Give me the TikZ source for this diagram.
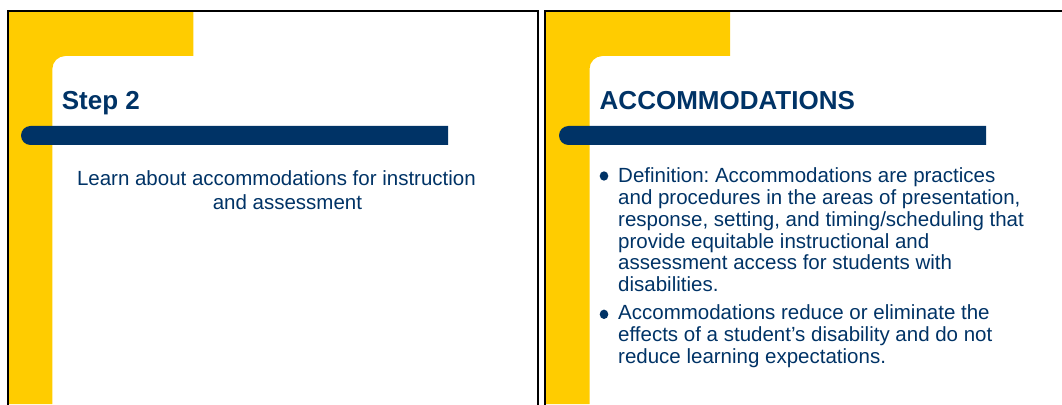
\documentclass[tikz,border=0pt]{standalone}
\usepackage{fontspec}
\setmainfont{Liberation Sans}
\frenchspacing
\definecolor{navy}{HTML}{003366}
\definecolor{gold}{HTML}{FFCC00}
\tikzset{
  slideframe/.style={draw=black, line width=2pt},
  goldfill/.style={fill=gold},
  navybar/.style={fill=navy},
  titletext/.style={anchor=base west, inner sep=0pt, text=navy, font=\fontsize{26}{30}\selectfont\bfseries},
  bodytext/.style={anchor=base west, inner sep=0pt, text=navy, font=\fontsize{20.5}{21.8}\selectfont},
  bulletdot/.style={fill=navy, ellipse, inner sep=0pt, minimum width=8.6pt, minimum height=9.4pt}
}
\usetikzlibrary{shapes.geometric}
\begin{document}
\begin{tikzpicture}[x=1pt,y=1pt]
\useasboundingbox (0,0) rectangle (1062,404);
\fill[white] (0,0) rectangle (1062,404);
% ---------- left slide ----------
\fill[goldfill] (8.3,393) -- (193.3,393) -- (193.3,348) -- (65.3,348)
  arc[start angle=90, end angle=180, radius=13] -- (52.3,0) -- (8.3,0) -- cycle;
\fill[navybar] (448,259) -- (30.5,259) arc[start angle=270, end angle=90, radius=9.5] -- (448,278) -- cycle;
\draw[slideframe] (8.3,-10) rectangle (537.5,393);
\node[titletext] (t1) at (61.7,294.7) {Step 2};
\node[bodytext] (l1) at (76.8,218) {Learn about accommodations for instruction};
\node[bodytext] (l2) at (212.6,194.7) {and assessment};
% ---------- right slide ----------
\fill[goldfill] (545,393) -- (730,393) -- (730,348) -- (602.5,348)
  arc[start angle=90, end angle=180, radius=13] -- (589.5,0) -- (545,0) -- cycle;
\fill[navybar] (986,259) -- (568.5,259) arc[start angle=270, end angle=90, radius=9.5] -- (986,278) -- cycle;
\draw[slideframe] (545,-10) rectangle (1074,393);
\node[titletext] (t2) at (599.5,294.7) {ACCOMMODATIONS};
\node[bulletdot] (d1) at (604,228) {};
\node[bodytext] (p1) at (618,221.3) {\parbox[t]{430pt}{\raggedright
  Definition: Accommodations are practices\\
  and procedures in the areas of presentation,\\
  response, setting, and timing/scheduling that\\
  provide equitable instructional and\\
  assessment access for students with\\
  disabilities.}};
\node[bulletdot] (d2) at (604,89.7) {};
\node[bodytext] (p2) at (618,84) {\parbox[t]{430pt}{\raggedright
  Accommodations reduce or eliminate the\\
  effects of a student’s disability and do not\\
  reduce learning expectations.}};
\end{tikzpicture}
\end{document}
